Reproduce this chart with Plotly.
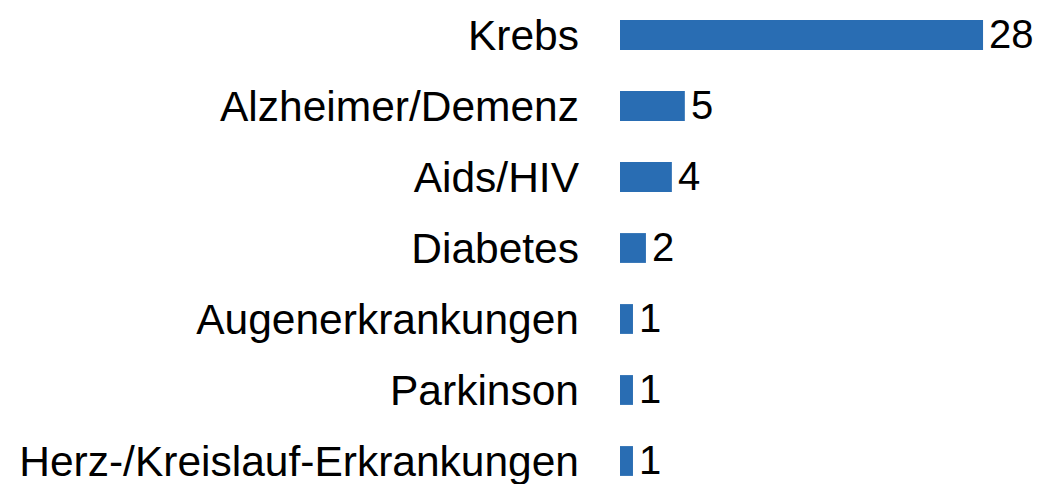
import plotly.graph_objects as go

# Disease categories and number of mentions
categories = [
    "Krebs",
    "Alzheimer/Demenz",
    "Aids/HIV",
    "Diabetes",
    "Augenerkrankungen",
    "Parkinson",
    "Herz-/Kreislauf-Erkrankungen",
]
values = [28, 5, 4, 2, 1, 1, 1]

BAR_COLOR = "#296db3"
FONT = "Liberation Sans, Arial, sans-serif"

fig = go.Figure(
    go.Bar(
        y=categories,
        x=values,
        orientation="h",
        marker=dict(color=BAR_COLOR, line=dict(width=0)),
        width=0.42,
        cliponaxis=False,
    )
)

# Value labels just right of each bar end
for cat, val in zip(categories, values):
    fig.add_annotation(
        x=val,
        y=cat,
        text=str(val),
        showarrow=False,
        xanchor="left",
        yanchor="middle",
        xshift=4,
        yshift=1,
        font=dict(family=FONT, size=40, color="#000000"),
    )

fig.update_layout(
    width=1041,
    height=484,
    margin=dict(l=620, r=0, t=0, b=0),
    paper_bgcolor="white",
    plot_bgcolor="white",
    showlegend=False,
    font=dict(family=FONT, size=42, color="#000000"),
)

fig.update_xaxes(
    range=[0, 32.47],
    visible=False,
    showgrid=False,
    zeroline=False,
)

fig.update_yaxes(
    range=[6.324, -0.493],
    showgrid=False,
    zeroline=False,
    showline=False,
    ticks="",
    ticklabelstandoff=40,
    tickfont=dict(family=FONT, size=42.5, color="#000000"),
)

fig.write_html("out.html")
